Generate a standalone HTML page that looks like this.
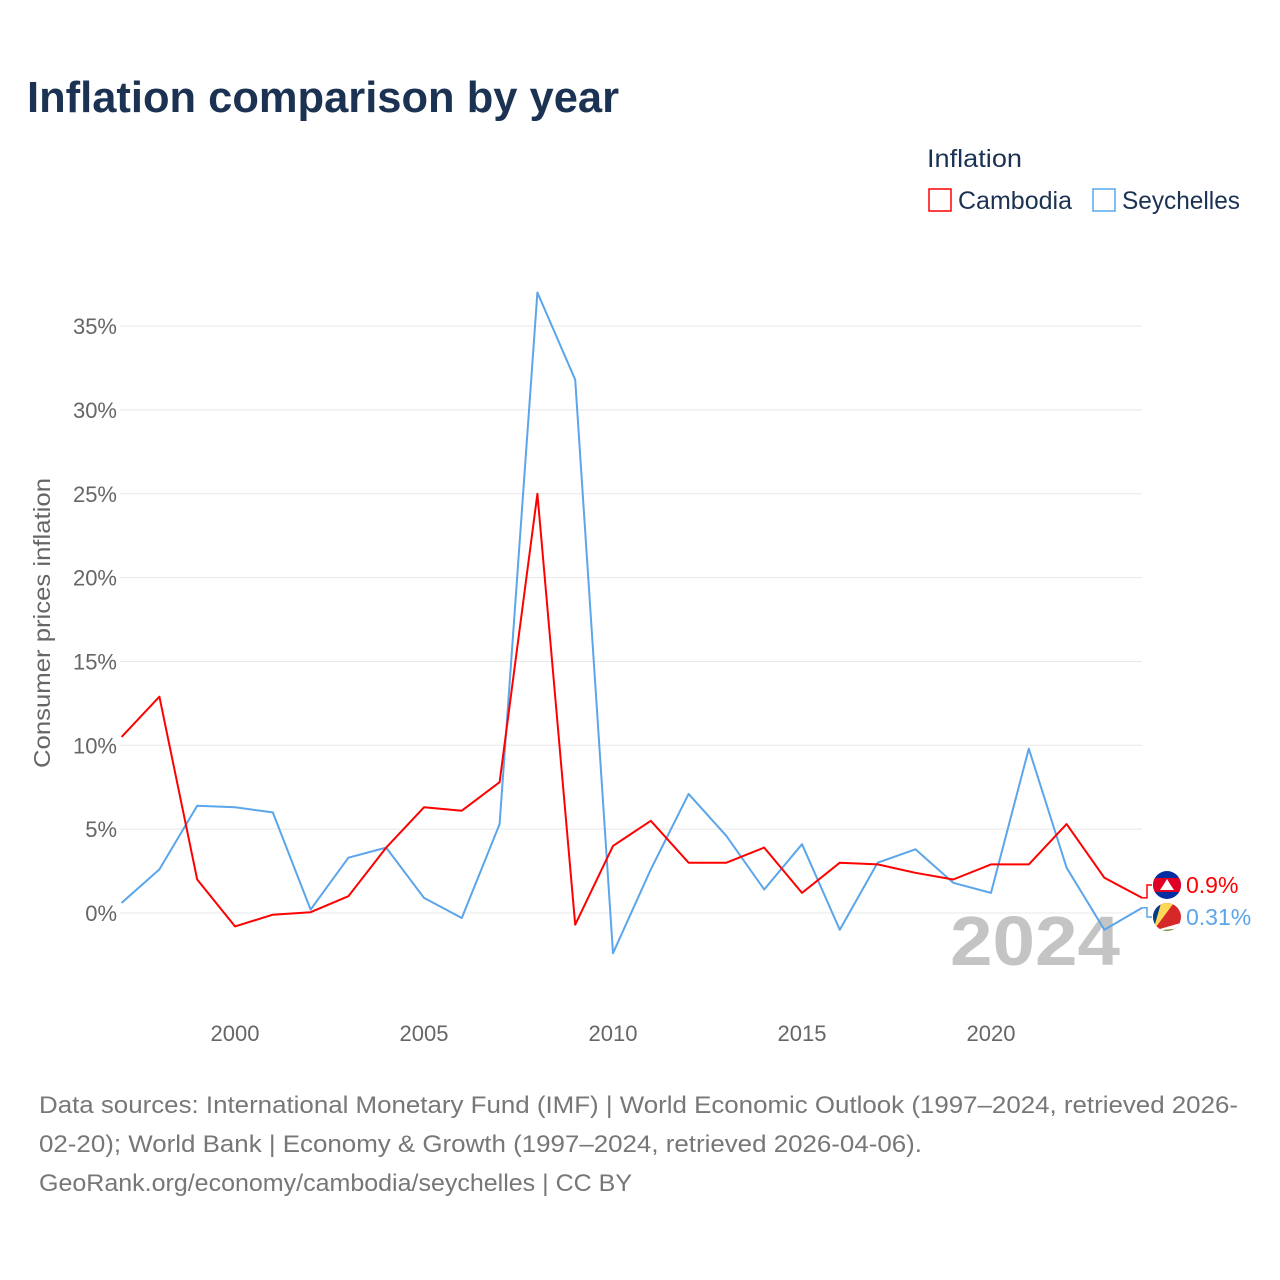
<!DOCTYPE html>
<html><head><meta charset="utf-8"><style>
body{margin:0;width:1280px;height:1280px;background:#fff;font-family:"Liberation Sans",sans-serif;overflow:hidden}
svg{position:absolute;left:0;top:0}
</style></head><body>
<svg id="c" width="1280" height="1280">
<defs><clipPath id="c1"><circle cx="1167" cy="885" r="14"/></clipPath><clipPath id="c2"><circle cx="1167" cy="917" r="14"/></clipPath></defs>
<text x="27" y="112" font-size="44" font-weight="bold" fill="#1b3252" textLength="592" lengthAdjust="spacingAndGlyphs">Inflation comparison by year</text>
<text x="927" y="167" font-size="25" fill="#1b3252" textLength="95" lengthAdjust="spacingAndGlyphs">Inflation</text>
<g><rect x="929" y="189" width="22" height="22" fill="none" stroke="#f00" stroke-width="1.5"/><text x="958" y="209" font-size="25" fill="#1b3252" textLength="114" lengthAdjust="spacingAndGlyphs">Cambodia</text></g>
<g><rect x="1093" y="189" width="22" height="22" fill="none" stroke="#5ba5ea" stroke-width="1.5"/><text x="1122" y="209" font-size="25" fill="#1b3252" textLength="118" lengthAdjust="spacingAndGlyphs">Seychelles</text></g>
<text transform="translate(50,623) rotate(-90)" text-anchor="middle" font-size="23" fill="#666" textLength="290" lengthAdjust="spacingAndGlyphs">Consumer prices inflation</text>
<g id="grid"></g><g id="ticks"></g>
<text x="950" y="965" font-size="70" font-weight="bold" fill="#c4c4c4" textLength="170" lengthAdjust="spacingAndGlyphs">2024</text>
<g id="lines"></g>
<text x="39" y="1113" font-size="24" fill="#777" textLength="1199" lengthAdjust="spacingAndGlyphs">Data sources: International Monetary Fund (IMF) | World Economic Outlook (1997–2024, retrieved 2026-</text>
<text x="39" y="1152" font-size="24" fill="#777" textLength="883" lengthAdjust="spacingAndGlyphs">02-20); World Bank | Economy &amp; Growth (1997–2024, retrieved 2026-04-06).</text>
<text x="39" y="1191" font-size="24" fill="#777" textLength="593" lengthAdjust="spacingAndGlyphs">GeoRank.org/economy/cambodia/seychelles | CC BY</text>
</svg>
<script>
const years=[1997,1998,1999,2000,2001,2002,2003,2004,2005,2006,2007,2008,2009,2010,2011,2012,2013,2014,2015,2016,2017,2018,2019,2020,2021,2022,2023,2024];
const cambodia=[10.5,12.9,2.0,-0.8,-0.1,0.05,1.0,3.9,6.3,6.1,7.8,25.0,-0.7,4.0,5.5,3.0,3.0,3.9,1.2,3.0,2.9,2.4,2.0,2.9,2.9,5.3,2.1,0.9];
const seychelles=[0.6,2.6,6.4,6.3,6.0,0.2,3.3,3.9,0.9,-0.3,5.3,37.0,31.8,-2.4,2.6,7.1,4.6,1.4,4.1,-1.0,3.0,3.8,1.8,1.2,9.8,2.7,-1.0,0.31];
const yTicks=[0,5,10,15,20,25,30,35];
const xTicks=[2000,2005,2010,2015,2020];
const NS="http://www.w3.org/2000/svg";
const X=y=>121.6+(y-1997)*37.8;
const Y=v=>913-v*16.77;
function mk(t,a,p){const e=document.createElementNS(NS,t);for(const k in a)e.setAttribute(k,a[k]);p.appendChild(e);return e;}
const grid=document.getElementById('grid'),ticks=document.getElementById('ticks'),lines=document.getElementById('lines');
yTicks.forEach(v=>{
 const l=mk('line',{x1:120,x2:1142,y1:Y(v),y2:Y(v),stroke:'#e8e8e8','stroke-width':1},grid);
 
 
 const t=mk('text',{x:117,y:Y(v)+8,'text-anchor':'end','font-size':22,fill:'#666'},ticks);
 t.textContent=v+'%';
 
 
});
xTicks.forEach(y=>{
 const t=mk('text',{x:X(y),y:1041,'text-anchor':'middle','font-size':22,fill:'#666'},ticks);
 t.textContent=y;
 
 
});
function series(vals,col,name){
 const d=vals.map((v,i)=>(i?'L':'M')+X(years[i]).toFixed(1)+','+Y(v).toFixed(1)).join('');
 const p=mk('path',{d:d,fill:'none',stroke:col,'stroke-width':2,'stroke-linejoin':'round'},lines);
 
 
}
series(seychelles,'#5ba5ea','line-seychelles');
series(cambodia,'#f00','line-cambodia');
const lx=X(2024);
const cy=Y(cambodia[cambodia.length-1]),sy=Y(seychelles[seychelles.length-1]);
mk('path',{d:`M${lx},${cy}L1147,${cy}L1147,885L1152,885`,fill:'none',stroke:'#f00','stroke-width':1.5},lines);
mk('path',{d:`M${lx},${sy}L1147,${sy}L1147,917L1152,917`,fill:'none',stroke:'#5ba5ea','stroke-width':1.5},lines);
const f1=mk('g',{'clip-path':'url(#c1)'},lines);


mk('rect',{x:1150,y:868,width:34,height:34,fill:'#032ea1'},f1);
mk('rect',{x:1150,y:878,width:34,height:14,fill:'#e00025'},f1);
mk('path',{d:'M1160,890L1174,890L1170,884L1167,879L1164,884Z',fill:'#fff'},f1);
const f2=mk('g',{'clip-path':'url(#c2)'},lines);


mk('rect',{x:1150,y:900,width:34,height:34,fill:'#d62828'},f2);
mk('path',{d:'M1153,931L1150,900L1162,900Z',fill:'#003f87'},f2);
mk('path',{d:'M1153,931L1162,900L1176,900Z',fill:'#fcd856'},f2);
mk('path',{d:'M1153,931L1184,922L1184,928Z',fill:'#fff'},f2);
mk('path',{d:'M1153,931L1184,928L1184,934L1153,934Z',fill:'#6ca63a'},f2);
const t1=mk('text',{x:1186,y:893,'font-size':23,fill:'#f00'},lines);
t1.textContent=cambodia[cambodia.length-1]+'%';


const t2=mk('text',{x:1186,y:925,'font-size':23,fill:'#5ba5ea'},lines);
t2.textContent=seychelles[seychelles.length-1]+'%';


</script>
</body></html>
